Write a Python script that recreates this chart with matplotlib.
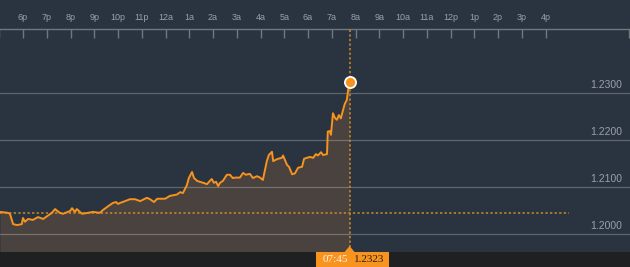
import matplotlib
matplotlib.use("Agg")
import matplotlib.pyplot as plt
from matplotlib.patches import Rectangle, Polygon

# intraday quotes (local time, wraps past midnight)
times = ["17:02", "17:22", "17:27", "17:35", "17:45", "17:57", "18:00", "18:05", "18:13", "18:25",
         "18:38", "18:51", "19:01", "19:13", "19:21", "19:33", "19:41", "19:59", "20:04", "20:11",
         "20:16", "20:29", "20:44", "20:57", "21:14", "21:22", "21:35", "21:47", "21:55", "22:00",
         "22:05", "22:18", "22:30", "22:43", "22:56", "23:13", "23:21", "23:31", "23:39", "23:59",
         "00:11", "00:29", "00:37", "00:44", "00:54", "00:59", "01:07", "01:12", "01:20", "01:27",
         "01:35", "01:45", "01:52", "01:57", "02:02", "02:08", "02:13", "02:18", "02:25", "02:35",
         "02:43", "02:50", "02:56", "03:08", "03:16", "03:23", "03:33", "03:41", "03:51", "03:59",
         "04:06", "04:16", "04:21", "04:29", "04:32", "04:44", "04:54", "04:57", "05:07", "05:12",
         "05:20", "05:27", "05:35", "05:45", "05:50", "05:57", "06:05", "06:13", "06:20", "06:25",
         "06:33", "06:38", "06:48", "06:50", "06:55", "06:58", "07:03", "07:08", "07:13", "07:18",
         "07:23", "07:28", "07:33", "07:38", "07:41", "07:43", "07:45"]
prices = [1.2047, 1.2045, 1.2043, 1.2021, 1.2019, 1.2021, 1.2034, 1.2026, 1.2032, 1.2030,
          1.2036, 1.2032, 1.2038, 1.2045, 1.2053, 1.2045, 1.2043, 1.2049, 1.2055, 1.2047,
          1.2053, 1.2043, 1.2045, 1.2047, 1.2045, 1.2051, 1.2059, 1.2066, 1.2068, 1.2064,
          1.2066, 1.2070, 1.2074, 1.2074, 1.2070, 1.2077, 1.2074, 1.2068, 1.2075, 1.2075,
          1.2081, 1.2084, 1.2089, 1.2087, 1.2104, 1.2119, 1.2132, 1.2119, 1.2113, 1.2111,
          1.2109, 1.2106, 1.2113, 1.2117, 1.2109, 1.2111, 1.2102, 1.2109, 1.2113, 1.2126,
          1.2126, 1.2119, 1.2120, 1.2120, 1.2130, 1.2126, 1.2128, 1.2119, 1.2123, 1.2120,
          1.2115, 1.2155, 1.2168, 1.2175, 1.2155, 1.2160, 1.2162, 1.2167, 1.2147, 1.2143,
          1.2127, 1.2129, 1.2141, 1.2143, 1.2160, 1.2162, 1.2164, 1.2162, 1.2170, 1.2167,
          1.2174, 1.2168, 1.2170, 1.2218, 1.2219, 1.2211, 1.2257, 1.2247, 1.2243, 1.2253,
          1.2246, 1.2262, 1.2277, 1.2285, 1.2304, 1.2317, 1.2323]

prev_close = 1.2045
grid_prices = [1.2000, 1.2100, 1.2200, 1.2300]
hour_labels = ["6p", "7p", "8p", "9p", "10p", "11p", "12a", "1a", "2a", "3a", "4a", "5a",
               "6a", "7a", "8a", "9a", "10a", "11a", "12p", "1p", "2p", "3p", "4p"]
last_time = "07:45"


def to_hours(t):
    # hours after 6pm of the first day
    h, m = t.split(":")
    v = int(h) + int(m) / 60
    return v - 18 if v >= 12 else v + 6


xs = [to_hours(t) for t in times]

W, H = 630, 267
bg = "#2a3440"
orange = "#f7931e"
gray_txt = "#9aa0a7"

fig = plt.figure(figsize=(W / 100, H / 100), dpi=100, facecolor=bg)
ax = fig.add_axes([0, 0, 1, 1])
ax.set_facecolor(bg)
ax.set_axis_off()

# pixel mapping: 6p at x=23px, 23.75px per hour; 1.2000 at y=234px, 4700px per unit
ax.set_xlim(-23 / 23.75, (W - 23) / 23.75)
ax.set_ylim(1.2 - (H - 234) / 4700, 1.2 + 234 / 4700)
xt = ax.get_xaxis_transform()


def yfrac(p):
    return 1 - p / H


# area + line
ax.fill_between(xs, prices, 1.19, color="#4a423e", lw=0, zorder=1)
ax.plot(xs, prices, color=orange, lw=1.4, zorder=4, solid_joinstyle="round")

# grid
for g in grid_prices:
    ax.axhline(g, color="white", alpha=0.25, lw=0.9, zorder=2)
    ax.annotate(f"{g:.4f}", xy=(25.22, g), xytext=(0, 3.6), textcoords="offset points",
                ha="right", va="baseline", color=gray_txt, fontsize=7.5,
                family="Liberation Sans", zorder=5)

# previous close
ax.plot([xs[0], 23.0], [prev_close, prev_close], color="#c98a2c", lw=1.1,
        linestyle=(0, (1.5, 1.5)), zorder=3)

# top time axis
ax.axhline(1.2 + (234 - 29) / 4700, color="#6f7780", lw=1, zorder=3)
for i, lab in enumerate(hour_labels):
    ax.vlines(i, yfrac(38), yfrac(29), transform=xt, color="#6f7780", lw=1, zorder=3)
    ax.text(i, yfrac(17), lab, transform=xt, ha="center", va="center",
            color=gray_txt, fontsize=6.5, family="Liberation Sans")
ax.vlines(-1, yfrac(38), yfrac(29), transform=xt, color="#6f7780", lw=1)
ax.vlines((629 - 23) / 23.75, yfrac(38), yfrac(29), transform=xt, color="#6f7780", lw=1)

# bottom bar
ax.add_patch(Rectangle((0, 0), 1, yfrac(252), transform=ax.transAxes,
                       color="#1f2021", lw=0, zorder=6))

# crosshair at last point
xl = xs[-1]
ax.vlines(xl, yfrac(252), yfrac(29), transform=xt, color="#d08a22", lw=1.1,
          linestyles=(0, (1.5, 1.5)), zorder=3)
ax.plot([xl], [prices[-1]], "o", ms=8, mfc=orange, mec="white", mew=1.3, zorder=7)

# label box on the bottom bar
bx0 = (316 - 23) / 23.75
bx1 = (389 - 23) / 23.75
ax.add_patch(Rectangle((bx0, yfrac(H)), bx1 - bx0, yfrac(252), transform=xt,
                       color=orange, lw=0, zorder=7))
ax.add_patch(Polygon([(xl - 5 / 23.75, yfrac(252)), (xl + 5 / 23.75, yfrac(252)),
                      (xl, yfrac(246))], closed=True, transform=xt,
                     color=orange, lw=0, zorder=7))
ax.text((323 - 23) / 23.75, yfrac(260), last_time, transform=xt, ha="left", va="center",
        color="#fff3e4", fontsize=8, family="Liberation Serif", zorder=8)
ax.text((354 - 23) / 23.75, yfrac(260), f"{prices[-1]:.4f}", transform=xt, ha="left",
        va="center", color="#2a2118", fontsize=8, family="Liberation Serif", zorder=8)

fig.savefig("out.png", dpi=100, facecolor=bg)
